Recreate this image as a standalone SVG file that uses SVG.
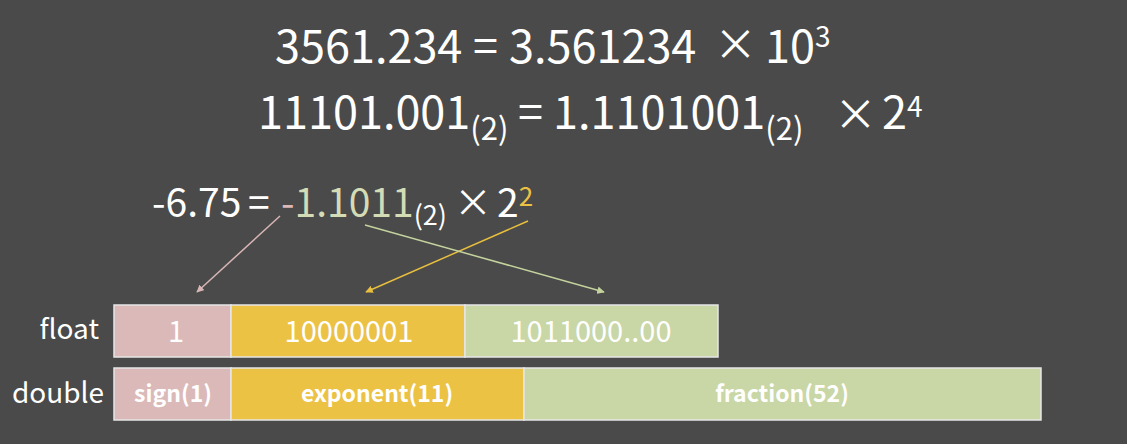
<svg xmlns="http://www.w3.org/2000/svg" width="1127" height="444" viewBox="0 0 1127 444">
<defs>
<style>
text{font-family:"Noto Sans CJK SC","Noto Sans",sans-serif;fill:#ffffff}
.eq{font-size:45px}
.eq3{font-size:39px}
.sub{font-size:28px}
.times{font-size:43px}
.lbl{font-size:28px}
.val{font-size:29px}
.fld{font-size:23px;font-weight:bold}
.cell{stroke:#e6e6e6;stroke-width:1.5}
.sign{fill:#dbb9b9}
.exp{fill:#ecc244}
.frac{fill:#c9d6a6}
</style>
<marker id="ap" viewBox="0 0 10 10" refX="9" refY="5" markerWidth="5" markerHeight="5" orient="auto"><path d="M0,0L10,5L0,10z" fill="#d8b6b6"/></marker>
<marker id="ay" viewBox="0 0 10 10" refX="9" refY="5" markerWidth="5" markerHeight="5" orient="auto"><path d="M0,0L10,5L0,10z" fill="#e8bf3e"/></marker>
<marker id="ag" viewBox="0 0 10 10" refX="9" refY="5" markerWidth="5" markerHeight="5" orient="auto"><path d="M0,0L10,5L0,10z" fill="#c4d39e"/></marker>
</defs>
<rect width="1127" height="444" fill="#4a4a4a"/>

<g id="eq1">
<text class="eq" x="275" y="63">3561.234<tspan x="473">=</tspan><tspan x="509">3.561234</tspan><tspan x="765">10</tspan><tspan class="sub" dy="-16">3</tspan></text>
<text class="times" x="714" y="60">×</text>
</g>
<g id="eq2">
<text class="eq" x="258" y="129">11101.001<tspan dy="11" style="font-size:31px">(2)</tspan><tspan x="518" dy="-11">=</tspan><tspan x="553">1.1101001</tspan><tspan dy="11" style="font-size:31px">(2)</tspan><tspan x="882" dy="-11">2</tspan><tspan class="sub" dy="-12">4</tspan></text>
<text class="times" x="834" y="130">×</text>
</g>
<g id="eq3">
<text class="eq3" x="152" y="217">-6.75<tspan x="248">=</tspan><tspan x="281" style="fill:#dbb9b9">-</tspan><tspan style="fill:#d4dcb6">1.1011</tspan><tspan dy="8" style="font-size:27px">(2)</tspan><tspan x="497" dy="-8">2</tspan><tspan dy="-11" style="font-size:26px;fill:#ecc244">2</tspan></text>
<text x="454" y="216" style="font-size:38px">×</text>
</g>

<g id="connectors" fill="none" stroke-width="1.5">
<line x1="280" y1="216" x2="197" y2="292" stroke="#d8b6b6" marker-end="url(#ap)"/>
<line x1="528" y1="221" x2="366" y2="292" stroke="#e8bf3e" marker-end="url(#ay)"/>
<line x1="365" y1="225" x2="604" y2="292" stroke="#c4d39e" marker-end="url(#ag)"/>
</g>

<g id="float">
<text class="lbl" x="99" y="339" text-anchor="end">float</text>
<g id="float-sign"><rect class="cell sign" x="114" y="305" width="117" height="52"/><text class="val" x="176" y="342" text-anchor="middle">1</text></g>
<g id="float-exp"><rect class="cell exp" x="231" y="305" width="234" height="52"/><text class="val" x="349" y="342" text-anchor="middle">10000001</text></g>
<g id="float-frac"><rect class="cell frac" x="465" y="305" width="253" height="52"/><text class="val" x="591" y="342" text-anchor="middle">1011000..00</text></g>
</g>

<g id="double">
<text class="lbl" x="104" y="403" text-anchor="end">double</text>
<g id="double-sign"><rect class="cell sign" x="114" y="368" width="117" height="52"/><text class="fld" x="173" y="402" text-anchor="middle">sign(1)</text></g>
<g id="double-exp"><rect class="cell exp" x="231" y="368" width="293" height="52"/><text class="fld" x="377" y="402" text-anchor="middle">exponent(11)</text></g>
<g id="double-frac"><rect class="cell frac" x="524" y="368" width="517" height="52"/><text class="fld" x="782" y="402" text-anchor="middle">fraction(52)</text></g>
</g>
</svg>
